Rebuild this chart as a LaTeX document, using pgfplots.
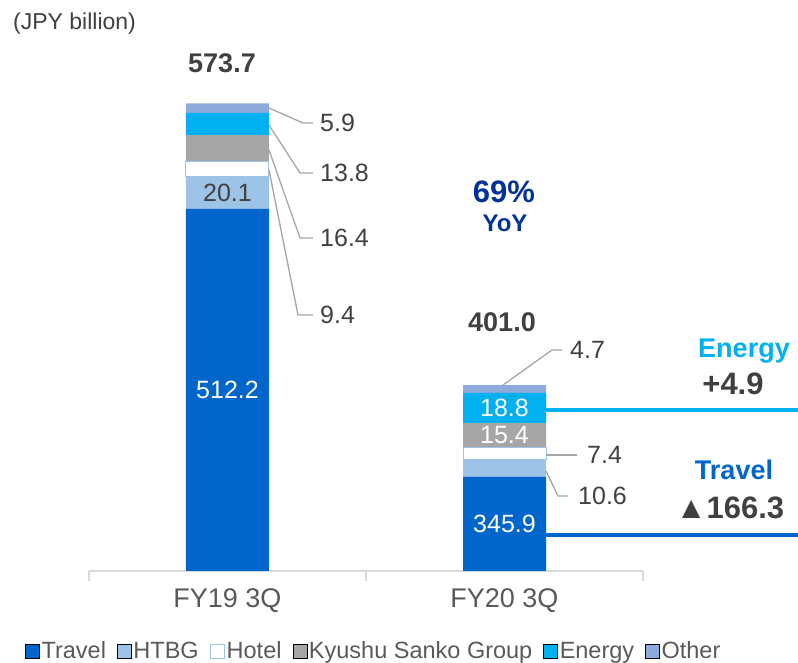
\documentclass[border=0pt]{standalone}
\usepackage{pgfplots}
\pgfplotsset{compat=1.18}
\usepackage{fontspec}
\setmainfont{Liberation Sans}

\definecolor{travelC}{RGB}{0,102,204}
\definecolor{htbgC}{RGB}{157,195,230}
\definecolor{kyushuC}{RGB}{166,166,166}
\definecolor{energyC}{RGB}{0,176,240}
\definecolor{otherC}{RGB}{143,170,220}
\definecolor{navyC}{RGB}{0,51,153}
\definecolor{textC}{RGB}{64,64,64}
\definecolor{tickC}{RGB}{89,89,89}
\definecolor{axisC}{RGB}{217,217,217}
\definecolor{leaderC}{RGB}{166,166,166}

\newcommand{\fs}[1]{\fontsize{#1}{#1}\selectfont}

\begin{document}
\begin{tikzpicture}[x=1pt,y=1pt]
% page = 798 x 663, axis box lower-left at (0,0)
\path[use as bounding box] (-89,-92) rectangle (709,571);

\begin{axis}[
    scale only axis,
    width=554pt, height=511.5pt,
    xmin=-0.5, xmax=1.5,
    ymin=287.5, ymax=605,
    ybar stacked,
    bar width=83pt,
    axis y line=none,
    axis x line*=bottom,
    x axis line style={draw=axisC, line width=1.2pt},
    xtick={0,1},
    xticklabels={FY19 3Q, FY20 3Q},
    minor xtick={-0.5,0.5,1.5},
    major tick length=0pt,
    minor tick length=10pt,
    tick align=outside,
    minor tick style={draw=axisC, line width=1.2pt},
    xticklabel style={font=\fs{27}, text=tickC, inner sep=0pt, anchor=north, yshift=-17pt},
    clip mode=individual,
    legend columns=6,
    legend style={draw=none, fill=none, inner sep=0pt,
        at={(-0.1155,-0.1565)}, anchor=west,
        font=\fs{23.5}, text=tickC,
        nodes={inner xsep=2pt, inner ysep=0pt},
        /tikz/every even column/.append style={column sep=9pt}},
    legend image code/.code={\draw[#1] (0pt,-7pt) rectangle (14pt,7pt);},
]
\addplot[fill=travelC, draw=none] coordinates {(0,512.2) (1,345.9)};
\addlegendentry{Travel}
\addplot[fill=htbgC, draw=none] coordinates {(0,20.1) (1,10.6)};
\addlegendentry{HTBG}
\addplot[fill=white, draw=htbgC, line width=1pt] coordinates {(0,9.4) (1,7.4)};
\addlegendentry{Hotel}
\addplot[fill=kyushuC, draw=none] coordinates {(0,16.4) (1,15.4)};
\addlegendentry{Kyushu Sanko Group}
\addplot[fill=energyC, draw=none] coordinates {(0,13.8) (1,18.8)};
\addlegendentry{Energy}
\addplot[fill=otherC, draw=none] coordinates {(0,5.9) (1,4.7)};
\addlegendentry{Other}

% segment middles for the labels inside the bars
\coordinate (a1) at (axis cs:0,400);
\coordinate (a2) at (axis cs:0,522.25);
\coordinate (b1) at (axis cs:1,316.7);
\coordinate (b4) at (axis cs:1,371.6);
\coordinate (b5) at (axis cs:1,388.7);
\end{axis}

% labels inside the bars (drawn after the stacked bars)
\node[font=\fs{25}, text=white, inner sep=0pt] at (a1) {512.2};
\node[font=\fs{25}, text=textC, inner sep=0pt] at (a2) {20.1};
\node[font=\fs{25}, text=white, inner sep=0pt] at (b1) {345.9};
\node[font=\fs{25}, text=white, inner sep=0pt] at (b4) {15.4};
\node[font=\fs{25}, text=white, inner sep=0pt] at (b5) {18.8};

% annotations in reference pixel coordinates (x right, y down)
\begin{scope}[x=1pt, y=-1pt, shift={(-89pt,571pt)}]
  \node[font=\fs{23}, text=textC, inner sep=0pt, anchor=base west] at (13,30) {(JPY billion)};
  \node[font=\bfseries\fs{27}, text=textC, inner sep=0pt] at (222,63) {573.7};
  \node[font=\bfseries\fs{27}, text=textC, inner sep=0pt] at (502,322) {401.0};
  \node[font=\bfseries\fs{31}, text=navyC, inner sep=0pt] at (504,192) {69\%};
  \node[font=\bfseries\fs{24}, text=navyC, inner sep=0pt] at (505,223.5) {YoY};

  % leader lines FY19
  \draw[leaderC, line width=1.3pt] (269,108) -- (303,123) -- (313,123);
  \draw[leaderC, line width=1.3pt] (269,125) -- (300,173) -- (313,173);
  \draw[leaderC, line width=1.3pt] (269,150) -- (300,238) -- (313,238);
  \draw[leaderC, line width=1.3pt] (269,170) -- (298,315) -- (313,315);
  \node[font=\fs{25}, text=textC, inner sep=0pt, anchor=west] at (320,123) {5.9};
  \node[font=\fs{25}, text=textC, inner sep=0pt, anchor=west] at (320,173) {13.8};
  \node[font=\fs{25}, text=textC, inner sep=0pt, anchor=west] at (320,238) {16.4};
  \node[font=\fs{25}, text=textC, inner sep=0pt, anchor=west] at (320,315) {9.4};

  % leader lines FY20
  \draw[leaderC, line width=1.3pt] (503,385) -- (552,350) -- (562,350);
  \draw[leaderC, line width=1.3pt] (546,455) -- (577,455);
  \draw[leaderC, line width=1.3pt] (546,471) -- (558,496) -- (568,496);
  \node[font=\fs{25}, text=textC, inner sep=0pt, anchor=west] at (570,350) {4.7};
  \node[font=\fs{25}, text=textC, inner sep=0pt, anchor=west] at (587,455) {7.4};
  \node[font=\fs{25}, text=textC, inner sep=0pt, anchor=west] at (578,496) {10.6};

  % change lines to the right edge
  \draw[energyC, line width=4pt] (546,410) -- (798,410);
  \draw[travelC, line width=4pt] (546,535) -- (798,535);
  \node[font=\bfseries\fs{27}, text=energyC, inner sep=0pt, anchor=base] at (744,358) {Energy};
  \node[font=\bfseries\fs{31}, text=textC, inner sep=0pt] at (733,384) {+4.9};
  \node[font=\bfseries\fs{27}, text=travelC, inner sep=0pt, anchor=base] at (734,480) {Travel};
  \node[font=\bfseries\fs{31}, text=textC, inner sep=0pt] at (730,508) {▲166.3};
\end{scope}
\end{tikzpicture}
\end{document}
